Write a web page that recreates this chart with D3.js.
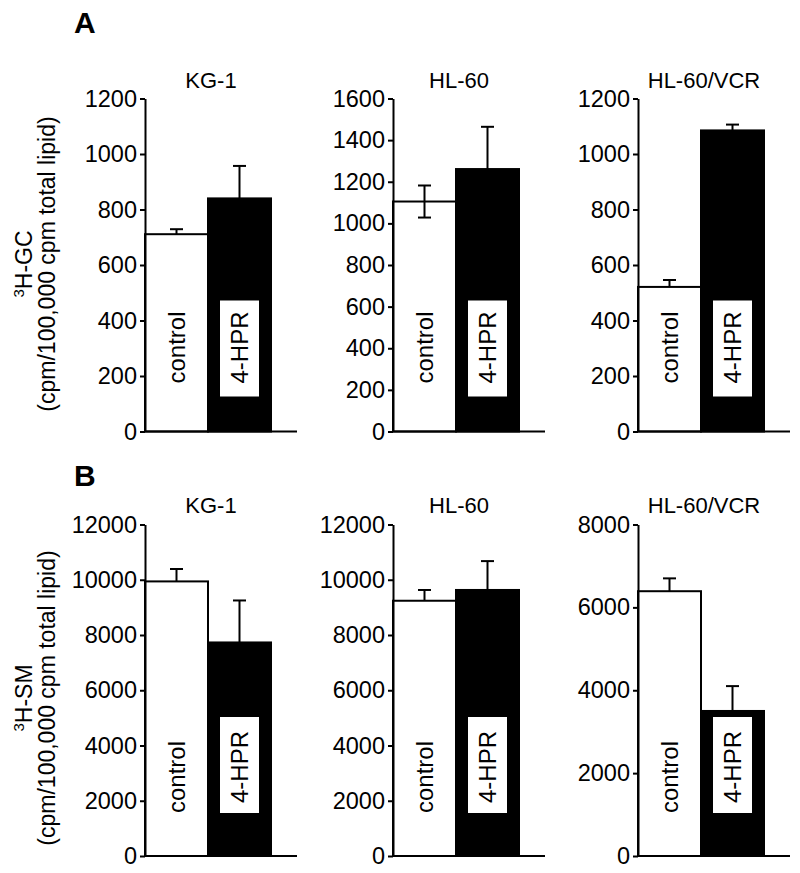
<!DOCTYPE html>
<html>
<head>
  <meta charset='utf-8'>
  <title>3H-GC and 3H-SM</title>
  <script src='https://cdn.jsdelivr.net/npm/d3@7/dist/d3.min.js'></script>
  <style type='text/css'>
    body { margin: 0; background: #fff; }
    text { font-family: 'Liberation Sans', Arial, sans-serif; fill: #000; }
  </style>
</head>
<body>
  <div id='plot-container'></div>
  <script>
    // values
    const cellLines = ['KG-1', 'HL-60', 'HL-60/VCR'];
    const groups = ['control', '4-HPR'];

    // panel A: 3H-GC
    const gcControl = [711, 1105, 521];
    const gcControlErr = [18, 77, 25];
    const gcControlErrLow = [0, 77, 0];
    const gcHpr = [840, 1261, 1085];
    const gcHprErr = [117, 203, 21];
    const gcMax = [1200, 1600, 1200];
    const gcTicks = [
        [0, 200, 400, 600, 800, 1000, 1200],
        [0, 200, 400, 600, 800, 1000, 1200, 1400, 1600],
        [0, 200, 400, 600, 800, 1000, 1200]
    ];

    // panel B: 3H-SM
    const smControl = [9940, 9240, 6390];
    const smControlErr = [450, 390, 310];
    const smControlErrLow = [0, 0, 0];
    const smHpr = [7730, 9630, 3500];
    const smHprErr = [1520, 1045, 600];
    const smMax = [12000, 12000, 8000];
    const smTicks = [
        [0, 2000, 4000, 6000, 8000, 10000, 12000],
        [0, 2000, 4000, 6000, 8000, 10000, 12000],
        [0, 2000, 4000, 6000, 8000]
    ];

    const svg = d3.select('#plot-container').append('svg')
        .attr('width', 800)
        .attr('height', 873);

    // layout of the two rows
    const rows = [
        {
            letter: 'A', letterY: 33, titleY: 88, top: 98.5, base: 431.5,
            labelY: 264, label: 'GC',
            control: gcControl, controlErr: gcControlErr, controlErrLow: gcControlErrLow,
            hpr: gcHpr, hprErr: gcHprErr, max: gcMax, ticks: gcTicks,
            ctrlText: 84, hprText: 84, boxTop: 131, boxBottom: 35
        },
        {
            letter: 'B', letterY: 486, titleY: 513, top: 524.5, base: 856,
            labelY: 698, label: 'SM',
            control: smControl, controlErr: smControlErr, controlErrLow: smControlErrLow,
            hpr: smHpr, hprErr: smHprErr, max: smMax, ticks: smTicks,
            ctrlText: 79, hprText: 89, boxTop: 139, boxBottom: 43
        }
    ];
    const panelX = [145, 393, 638];
    const barWidth = 63;
    const baseLength = 152;
    const capHalf = 6.5;
    const lineW = 2;

    rows.forEach(row => {
        svg.append('text')
            .attr('x', 74)
            .attr('y', row.letterY)
            .style('font-size', '30px')
            .style('font-weight', 'bold')
            .text(row.letter);

        // y axis label
        const lab = svg.append('g')
            .attr('transform', `translate(0, ${row.labelY}) rotate(-90)`);
        const t1 = lab.append('text')
            .attr('x', 0).attr('y', 32)
            .attr('text-anchor', 'middle')
            .style('font-size', '23px');
        t1.append('tspan').attr('dy', -8).style('font-size', '15px').text('3');
        t1.append('tspan').attr('dy', 8).text(`H-${row.label}`);
        lab.append('text')
            .attr('x', 0).attr('y', 55)
            .attr('text-anchor', 'middle')
            .style('font-size', '23px')
            .text('(cpm/100,000 cpm total lipid)');

        cellLines.forEach((name, i) => {
            const g = svg.append('g')
                .attr('transform', `translate(${panelX[i]}, 0)`);
            const y = d3.scaleLinear()
                .domain([0, row.max[i]])
                .range([row.base, row.top]);
            const x = d3.scaleBand()
                .domain(groups)
                .range([0, 2 * barWidth]);
            const vals = [row.control[i], row.hpr[i]];
            const errs = [row.controlErr[i], row.hprErr[i]];
            const errLow = [row.controlErrLow[i], 0];

            g.append('text')
                .attr('x', barWidth + 3)
                .attr('y', row.titleY)
                .attr('text-anchor', 'middle')
                .style('font-size', '22px')
                .text(name);

            // bars
            g.selectAll('.bar')
                .data(groups)
                .enter()
                .append('rect')
                .attr('class', 'bar')
                .attr('x', d => x(d))
                .attr('y', (d, j) => y(vals[j]))
                .attr('width', x.bandwidth())
                .attr('height', (d, j) => y(0) - y(vals[j]))
                .style('fill', (d, j) => j === 0 ? '#fff' : '#000')
                .style('stroke', '#000')
                .style('stroke-width', lineW);

            // error bars
            groups.forEach((d, j) => {
                const cx = x(d) + x.bandwidth() / 2;
                const lo = y(vals[j] - errLow[j]);
                const hi = y(vals[j] + errs[j]);
                g.append('line')
                    .attr('x1', cx).attr('x2', cx)
                    .attr('y1', lo).attr('y2', hi)
                    .style('stroke', '#000').style('stroke-width', lineW);
                g.append('line')
                    .attr('x1', cx - capHalf).attr('x2', cx + capHalf)
                    .attr('y1', hi).attr('y2', hi)
                    .style('stroke', '#000').style('stroke-width', lineW);
                if (errLow[j] > 0) {
                    g.append('line')
                        .attr('x1', cx - capHalf).attr('x2', cx + capHalf)
                        .attr('y1', lo).attr('y2', lo)
                        .style('stroke', '#000').style('stroke-width', lineW);
                }
            });

            // labels inside the bars
            const hx = x('4-HPR') + x.bandwidth() / 2;
            g.append('rect')
                .attr('x', hx - 19.5)
                .attr('y', row.base - row.boxTop)
                .attr('width', 39)
                .attr('height', row.boxTop - row.boxBottom)
                .style('fill', '#fff');
            const cx = x('control') + x.bandwidth() / 2;
            g.append('text')
                .attr('transform', `translate(${cx}, ${row.base - row.ctrlText}) rotate(-90)`)
                .attr('dy', '0.35em')
                .attr('text-anchor', 'middle')
                .style('font-size', '24px')
                .text('control');
            g.append('text')
                .attr('transform', `translate(${hx}, ${row.base - row.hprText}) rotate(-90)`)
                .attr('dy', '0.35em')
                .attr('text-anchor', 'middle')
                .style('font-size', '24px')
                .text('4-HPR');

            // axes
            const yAxis = g.append('g')
                .call(d3.axisLeft(y)
                    .tickValues(row.ticks[i])
                    .tickFormat(d3.format('d'))
                    .tickSize(5)
                    .tickSizeOuter(0)
                    .tickPadding(3));
            yAxis.select('.domain').style('stroke-width', lineW);
            yAxis.selectAll('.tick line').style('stroke-width', lineW);
            yAxis.selectAll('.tick text')
                .style('font-size', '23.5px')
                .style('font-family', "'Liberation Sans', Arial, sans-serif");
            g.append('line')
                .attr('x1', 0).attr('x2', baseLength)
                .attr('y1', y(0)).attr('y2', y(0))
                .style('stroke', '#000').style('stroke-width', lineW);
        });
    });
  </script>
</body>
</html>
